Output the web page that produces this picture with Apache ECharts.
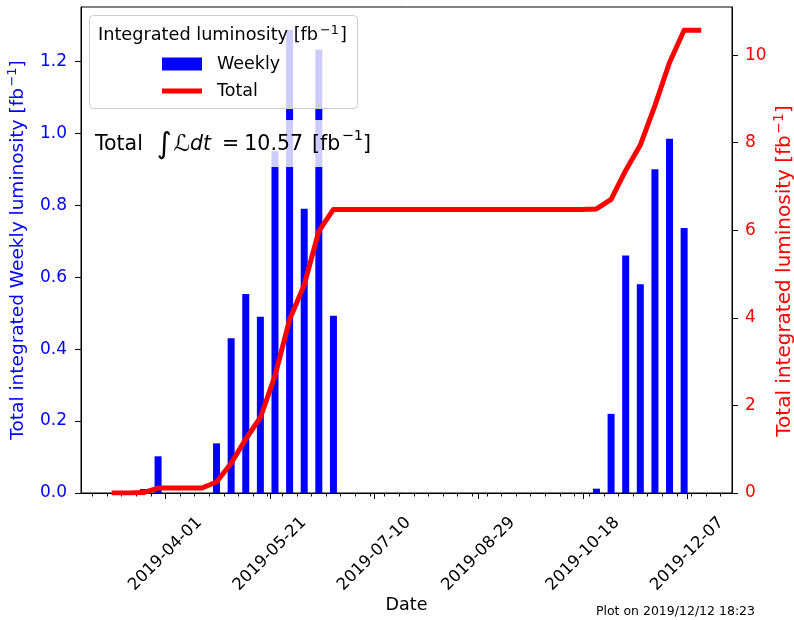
<!DOCTYPE html>
<html><head><meta charset="utf-8">
<script src="https://cdn.jsdelivr.net/npm/echarts@6/dist/echarts.min.js"></script>
<style>html,body{margin:0;padding:0;background:#fff}#c{width:794px;height:620px}</style>
</head><body><div id="c"></div>
<script>
// ---- data ----
const weekDates = ['2019-03-07','2019-03-14','2019-03-21','2019-03-28','2019-04-04','2019-04-11','2019-04-18','2019-04-25',
  '2019-05-02','2019-05-09','2019-05-16','2019-05-23','2019-05-30','2019-06-06','2019-06-13','2019-06-20','2019-06-27',
  '2019-07-04','2019-07-11','2019-07-18','2019-07-25','2019-08-01','2019-08-08','2019-08-15','2019-08-22','2019-08-29',
  '2019-09-05','2019-09-12','2019-09-19','2019-09-26','2019-10-03','2019-10-10','2019-10-17','2019-10-24','2019-10-31',
  '2019-11-07','2019-11-14','2019-11-21','2019-11-28','2019-12-05','2019-12-12'];
const weeklyLumi = [0,0,0.011,0.102,0,0,0,0.138,0.43,0.553,0.49,0.95,1.287,0.79,1.232,0.493,
  0,0,0,0,0,0,0,0,0,0,0,0,0,0,0,0,0,
  0.012,0.22,0.66,0.58,0.9,0.985,0.737,0];
const totalLumi = [0,0,0.011,0.113,0.113,0.113,0.113,0.251,0.681,1.234,1.724,2.674,3.961,4.751,5.983,6.476,
  6.476,6.476,6.476,6.476,6.476,6.476,6.476,6.476,6.476,6.476,6.476,6.476,6.476,6.476,6.476,6.476,6.476,
  6.488,6.708,7.368,7.948,8.848,9.833,10.57,10.57];
const xTickDates = ['2019-04-01','2019-05-21','2019-07-10','2019-08-29','2019-10-18','2019-12-07'];
const leftTicks = [0,0.2,0.4,0.6,0.8,1.0,1.2];
const rightTicks = [0,2,4,6,8,10];
const xRange = ['2019-02-19T13:48:00Z','2019-12-28T10:12:00Z'];
const yLeftMax = 1.351, yRightMax = 11.1;

const FONT = 'DejaVu Sans';
const day = s => Date.parse(s + 'T00:00:00Z');
const xMin = Date.parse(xRange[0]), xMax = Date.parse(xRange[1]);
const majorTicks = xTickDates.map(day);
const mondayTicks = [];
for (let d = day('2019-02-25'); d <= xMax; d += 7 * 864e5) mondayTicks.push(d);
const barData = weekDates.map((s, i) => [Date.parse(s + 'T12:00:00Z'), weeklyLumi[i]]);
const lineData = weekDates.map((s, i) => [Date.parse(s + 'T12:00:00Z'), totalLumi[i]]);

function supRich(size, color) {
  return {
    a: {fontSize: size, fontFamily: FONT, color: color, lineHeight: size * 1.3, verticalAlign: 'middle'},
    s: {fontSize: size * 0.7, fontFamily: FONT, color: color, lineHeight: size * 0.7, verticalAlign: 'top', padding: [0, 0, 0, 1.5]}
  };
}

const chart = echarts.init(document.getElementById('c'), null, {renderer: 'canvas'});
chart.setOption({
  animation: false,
  backgroundColor: '#fff',
  textStyle: {fontFamily: FONT},
  grid: {left: 81, right: 62, top: 7, bottom: 127, containLabel: false, outerBoundsMode: 'none',
    show: true, borderColor: '#000', borderWidth: 1, backgroundColor: 'transparent'},
  legend: {
    left: 162, top: 55, orient: 'vertical', padding: 0, itemWidth: 40, itemHeight: 13, itemGap: 9, z: 6,
    symbolKeepAspect: true,
    itemStyle: {borderWidth: 0},
    textStyle: {fontSize: 17.5, fontFamily: FONT, color: '#000', lineHeight: 18, padding: [0, 0, 0, 10]},
    data: [{name: 'Weekly', icon: 'rect'}, {name: 'Total', icon: 'path://M0,0H42V5H0Z'}]
  },
  xAxis: [{
    type: 'value', min: xMin, max: xMax, position: 'bottom',
    name: 'Date', nameLocation: 'middle', nameGap: 103, nameMoveOverlap: false,
    nameTextStyle: {fontSize: 17.5, color: '#000', fontFamily: FONT},
    axisLine: {show: true, onZero: false, lineStyle: {color: '#000', width: 1}},
    axisTick: {show: true, length: 6, customValues: majorTicks, lineStyle: {color: '#000', width: 1}},
    axisLabel: {customValues: majorTicks, rotate: 45, align: 'center', verticalAlign: 'middle', margin: 61,
      fontSize: 16.5, color: '#000', fontFamily: FONT,
      formatter: v => new Date(v).toISOString().slice(0, 10)},
    splitLine: {show: false}
  }, {
    type: 'value', min: xMin, max: xMax, position: 'bottom', gridIndex: 0,
    axisLine: {show: false, onZero: false},
    axisTick: {show: true, length: 3.5, customValues: mondayTicks, lineStyle: {color: '#000', width: 1}},
    axisLabel: {show: false},
    splitLine: {show: false}
  }],
  yAxis: [{
    type: 'value', min: 0, max: yLeftMax, position: 'left',
    name: '{a|Total integrated Weekly luminosity [fb}{s|−1}{a|]}', nameLocation: 'middle', nameGap: 50.5, nameMoveOverlap: false,
    nameTextStyle: {fontSize: 18.5, color: '#0000ff', fontFamily: FONT, rich: supRich(18.5, '#0000ff')},
    axisLine: {show: true, onZero: false, lineStyle: {color: '#000', width: 1}},
    axisTick: {show: true, length: 6, customValues: leftTicks, lineStyle: {color: '#000', width: 1}},
    axisLabel: {customValues: leftTicks, margin: 14, fontSize: 17, color: '#0000ff', fontFamily: FONT,
      formatter: v => v.toFixed(1)},
    splitLine: {show: false}
  }, {
    type: 'value', min: 0, max: yRightMax, position: 'right',
    name: '{a|Total integrated luminosity [fb}{s|−1}{a|]}', nameLocation: 'middle', nameGap: 40, nameMoveOverlap: false,
    nameTextStyle: {fontSize: 20, color: '#ff0000', fontFamily: FONT, rich: supRich(20, '#ff0000'), padding: [0, 42, 0, 0]},
    axisLine: {show: true, onZero: false, lineStyle: {color: '#000', width: 1}},
    axisTick: {show: true, length: 6, customValues: rightTicks, lineStyle: {color: '#000', width: 1}},
    axisLabel: {customValues: rightTicks, margin: 13, fontSize: 17, color: '#ff0000', fontFamily: FONT,
      formatter: v => String(v)},
    splitLine: {show: false}
  }],
  series: [{
    name: 'Weekly', type: 'bar', xAxisIndex: 0, yAxisIndex: 0, data: barData, barWidth: 7,
    itemStyle: {color: '#0000ff'}, z: 2
  }, {
    name: 'Total', type: 'line', xAxisIndex: 0, yAxisIndex: 1, data: lineData,
    symbol: 'none', showSymbol: false, lineStyle: {color: '#ff0000', width: 5, cap: 'square', join: 'round'},
    itemStyle: {color: '#ff0000'}, z: 3
  }],
  graphic: [{
    type: 'rect', z: 4, shape: {x: 89.5, y: 15.5, width: 268, height: 93, r: 4},
    style: {fill: 'rgba(255,255,255,0.8)', stroke: '#cccccc', lineWidth: 1}
  }, {
    type: 'text', z: 5, style: {x: 98, y: 35, text: '{a|Integrated luminosity [fb}{s|−1}{a|]}',
      verticalAlign: 'middle', align: 'left',
      rich: {
        a: {fontSize: 17.7, fontFamily: FONT, fill: '#000', lineHeight: 22, verticalAlign: 'middle'},
        s: {fontSize: 12.8, fontFamily: FONT, fill: '#000', lineHeight: 12, verticalAlign: 'top', padding: [0, 1, 0, 2]}
      }}
  }, {
    type: 'text', z: 4, style: {
      x: 90, y: 120, verticalAlign: 'top', align: 'left',
      text: '{a|Total }{i|∫}{l|ℒ}{d|dt}{e|=}{n|10.57}{b|[fb}{s|−1}{a|]}',
      backgroundColor: 'rgba(255,255,255,0.8)', padding: [8.5, 4, 5.5, 5],
      rich: {
        a: {fontSize: 20.5, fontFamily: FONT, fill: '#000', lineHeight: 33, verticalAlign: 'middle'},
        e: {fontSize: 20.5, fontFamily: FONT, fill: '#000', lineHeight: 33, verticalAlign: 'middle'},
        n: {fontSize: 20.5, fontFamily: FONT, fill: '#000', lineHeight: 33, verticalAlign: 'middle', padding: [0, 0, 0, 5]},
        b: {fontSize: 20.5, fontFamily: FONT, fill: '#000', lineHeight: 33, verticalAlign: 'middle', padding: [0, 0, 0, 9]},
        i: {fontSize: 29, fontFamily: FONT, fill: '#000', lineHeight: 33, verticalAlign: 'middle', padding: [0, 0, 0, 7]},
        l: {fontSize: 23, fontFamily: FONT, fontStyle: 'italic', fill: '#000', lineHeight: 33, verticalAlign: 'middle', padding: [0, 0, 0, 2]},
        d: {fontSize: 20.5, fontFamily: FONT, fontStyle: 'italic', fill: '#000', lineHeight: 33, verticalAlign: 'middle', padding: [0, 11, 0, 0]},
        s: {fontSize: 14.5, fontFamily: FONT, fill: '#000', lineHeight: 23, verticalAlign: 'top', padding: [0, 0, 0, 1.5]}
      }
    }
  }, {
    type: 'text', z: 5, style: {x: 755, y: 612, text: 'Plot on 2019/12/12 18:23', fontSize: 12.5, fontFamily: FONT,
      fill: '#000', align: 'right', verticalAlign: 'middle'}
  }]
});
</script></body></html>
